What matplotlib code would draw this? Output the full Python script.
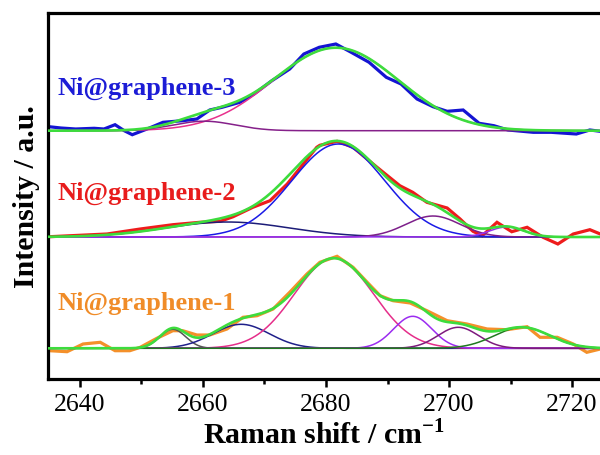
import numpy as np
import matplotlib
matplotlib.use("Agg")
import matplotlib.pyplot as plt

plt.rcParams['font.family'] = ['Liberation Serif', 'DejaVu Serif']
plt.rcParams['mathtext.fontset'] = 'custom'
plt.rcParams['mathtext.rm'] = 'Liberation Serif'
plt.rcParams['mathtext.bf'] = 'Liberation Serif:bold'

# ---------------- raw spectra (intensity above each baseline, a.u.) ----------------
x3 = [2634.96, 2636.9, 2639.3, 2642.3, 2643.9, 2645.7, 2647.2, 2648.5, 2650.9, 2653.5,
      2656.7, 2659.0, 2661.1, 2663.1, 2666.0, 2668.3, 2671.2, 2674.1, 2676.4, 2678.9,
      2681.6, 2684.1, 2687.0, 2689.8, 2692.2, 2694.8, 2697.4, 2699.7, 2702.3, 2704.9,
      2707.3, 2709.6, 2713.7, 2716.6, 2720.7, 2722.9, 2724.6]
y3 = [4.0, 2.7, 1.7, 2.4, 1.7, 6.0, 0.0, -4.0, 1.7, 8.4,
      10.0, 11.7, 20.7, 23.4, 28.4, 36.7, 50.0, 61.7, 76.7, 83.4,
      86.7, 78.4, 68.4, 53.4, 46.7, 31.7, 24.0, 19.4, 20.7, 7.4,
      5.0, 0.7, -1.6, -1.6, -3.3, 0.7, -0.6]

x2 = [2635.1, 2644.4, 2649.8, 2655.1, 2659.5, 2662.8, 2664.9, 2668.1, 2670.9, 2673.7,
      2676.3, 2678.5, 2679.0, 2681.8, 2684.4, 2688.3, 2692.0, 2694.1, 2696.4, 2699.7,
      2701.8, 2703.9, 2705.4, 2707.8, 2710.2, 2712.7, 2715.3, 2717.7, 2720.2, 2722.9,
      2724.6]
y2 = [0.3, 3.0, 8.0, 12.3, 14.7, 15.7, 20.3, 29.7, 36.3, 53.0,
      73.0, 89.7, 91.7, 95.7, 89.7, 69.7, 51.3, 44.7, 34.7, 29.0,
      18.0, 5.7, 1.3, 14.7, 5.3, 9.7, -0.3, -7.0, 3.0, 7.3,
      3.0]

x1 = [2635.1, 2637.9, 2640.5, 2643.3, 2645.7, 2648.1, 2649.8, 2652.5, 2655.1, 2656.7,
      2659.0, 2661.1, 2663.9, 2666.5, 2668.8, 2671.4, 2674.1, 2676.9, 2679.0, 2681.8,
      2684.4, 2686.7, 2688.8, 2690.9, 2693.7, 2696.4, 2699.7, 2702.9, 2706.2, 2709.4,
      2712.7, 2714.8, 2717.6, 2720.2, 2722.4, 2724.6]
y1 = [-2.4, -3.4, 4.3, 6.0, -2.4, -2.4, 1.0, 10.0, 17.6, 17.6,
      13.3, 13.3, 19.3, 31.0, 32.6, 39.3, 56.0, 74.3, 86.0, 92.0,
      81.0, 66.0, 52.6, 47.6, 45.3, 37.6, 27.6, 24.3, 19.3, 18.6,
      21.6, 11.0, 11.0, 4.3, -4.0, -0.7]

# ---------------- fitted Gaussian components: centre, height, sigma ----------------
s3_centers = [2681.6, 2660.2]
s3_heights = [83.0, 9.5]
s3_sigmas = [10.2, 5.0]
s3_colors = ['#e8308c', '#85208a']

s2_centers = [2664.0, 2682.0, 2697.4, 2709.4]
s2_heights = [15.0, 93.0, 21.0, 10.0]
s2_sigmas = [10.0, 7.55, 4.4, 2.8]
s2_colors = ['#1c1c78', '#1a1ae6', '#7d1f8a', '#9b30f0']

s1_centers = [2655.1, 2666.2, 2681.3, 2694.1, 2701.5, 2711.9]
s1_heights = [19.0, 24.0, 90.0, 32.0, 21.0, 21.0]
s1_sigmas = [2.1, 4.6, 6.4, 3.1, 3.3, 4.5]
s1_colors = ['#555555', '#20208a', '#e52e8a', '#9b2cf0', '#7d1a7d', '#1f7a1f']

offsets = [30.7, 142.0, 248.3]
labels = ['Ni@graphene-1', 'Ni@graphene-2', 'Ni@graphene-3']
label_colors = ['#f08c28', '#e81c1c', '#1c1cd6']
label_y = [70.0, 180.0, 285.5]
data_colors = ['#f4902a', '#ee1c1c', '#1414d2']
fit_color = '#3ddc3d'

fig = plt.figure(figsize=(6.0, 4.56), dpi=100)
ax = fig.add_axes([48 / 600, (456 - 380) / 456, 1 - 48 / 600, (380 - 13.5) / 456])

xx = np.linspace(2634.8, 2724.6, 900)

spectra = [(x1, y1, s1_centers, s1_heights, s1_sigmas, s1_colors),
           (x2, y2, s2_centers, s2_heights, s2_sigmas, s2_colors),
           (x3, y3, s3_centers, s3_heights, s3_sigmas, s3_colors)]

for i, (xd, yd, cs, hs, ss, cols) in enumerate(spectra):
    off = offsets[i]
    ax.plot(xd, np.array(yd) + off, color=data_colors[i], lw=2.3, zorder=2,
            solid_joinstyle='miter')
    total = np.zeros_like(xx)
    for c, h, s, col in zip(cs, hs, ss, cols):
        g = h * np.exp(-(xx - c) ** 2 / (2 * s ** 2))
        total += g
        ax.plot(xx, g + off, color=col, lw=1.1, zorder=3)
    ax.plot(xx, total + off, color=fit_color, lw=1.9, zorder=4)
    ax.text(2636.3, label_y[i], labels[i], color=label_colors[i], fontsize=19,
            fontweight='bold', ha='left', va='baseline', zorder=5)

ax.set_xlim(2634.8, 2724.55)
ax.set_ylim(0, 366.5)
ax.set_xticks([2640, 2660, 2680, 2700, 2720])
ax.set_xticks([2650, 2670, 2690, 2710], minor=True)
ax.set_yticks([])
ax.tick_params(axis='x', which='major', direction='out', length=6, width=1.8,
               labelsize=18.5, pad=4)
ax.tick_params(axis='x', which='minor', direction='out', length=3.5, width=1.8)
for sp in ['left', 'bottom', 'top']:
    ax.spines[sp].set_linewidth(2.3)
ax.spines['right'].set_visible(False)

ax.set_xlabel('Raman shift / cm$^{\\mathbf{-1}}$', fontsize=21.5, fontweight='bold', labelpad=3)
ax.set_ylabel('Intensity / a.u.', fontsize=21.5, fontweight='bold', labelpad=6)

fig.savefig('out.png', dpi=100)
